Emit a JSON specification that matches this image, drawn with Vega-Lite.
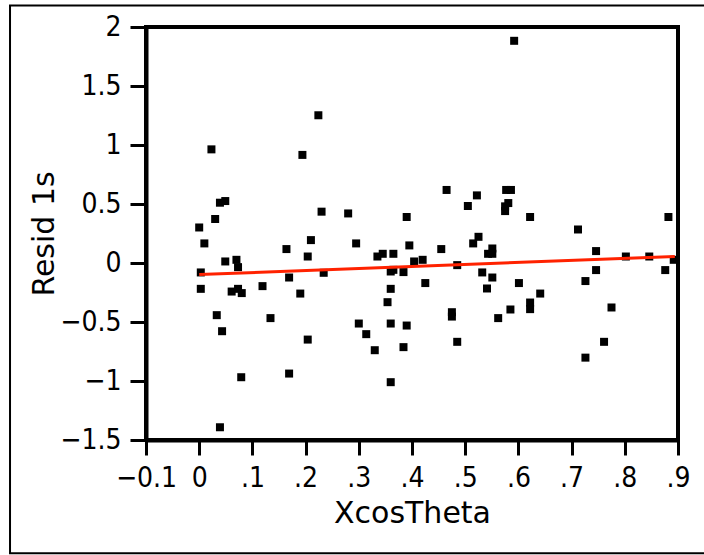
{
  "$schema": "https://vega.github.io/schema/vega-lite/v6.json",
  "width": 532,
  "height": 413,
  "autosize": {"type": "none"},
  "padding": {"left": 146, "top": 27, "right": 26, "bottom": 115},
  "background": "white",
  "config": {
    "view": {"stroke": "black", "strokeWidth": 4},
    "axis": {
      "grid": false,
      "domainColor": "black",
      "domainWidth": 4,
      "tickColor": "black",
      "tickWidth": 3,
      "tickSize": 15,
      "labelFont": "DejaVu Sans Condensed, Liberation Sans Narrow, DejaVu Sans",
      "labelFontSize": 28,
      "labelColor": "black",
      "titleFont": "DejaVu Sans",
      "titleFontSize": 30,
      "titleFontWeight": "normal",
      "titleColor": "black"
    }
  },
  "datasets": {
    "pts": [
      {"x": 0.592, "y": 1.883}, {"x": 0.224, "y": 1.252}, {"x": 0.023, "y": 0.963}, {"x": 0.194, "y": 0.916},
      {"x": 0.465, "y": 0.619}, {"x": 0.577, "y": 0.619}, {"x": 0.586, "y": 0.619}, {"x": 0.522, "y": 0.573},
      {"x": 0.049, "y": 0.525}, {"x": 0.039, "y": 0.511}, {"x": 0.505, "y": 0.483}, {"x": 0.581, "y": 0.508},
      {"x": 0.575, "y": 0.48}, {"x": 0.575, "y": 0.44}, {"x": 0.230, "y": 0.435}, {"x": 0.280, "y": 0.42},
      {"x": 0.390, "y": 0.39}, {"x": 0.622, "y": 0.39}, {"x": 0.882, "y": 0.39}, {"x": 0.030, "y": 0.373},
      {"x": 0.0, "y": 0.301}, {"x": 0.712, "y": 0.284}, {"x": 0.525, "y": 0.222}, {"x": 0.21, "y": 0.194},
      {"x": 0.0097, "y": 0.166}, {"x": 0.295, "y": 0.166}, {"x": 0.515, "y": 0.166}, {"x": 0.395, "y": 0.149},
      {"x": 0.164, "y": 0.118}, {"x": 0.455, "y": 0.118}, {"x": 0.551, "y": 0.123}, {"x": 0.746, "y": 0.101},
      {"x": 0.335, "y": 0.055}, {"x": 0.345, "y": 0.078}, {"x": 0.365, "y": 0.078}, {"x": 0.543, "y": 0.078},
      {"x": 0.551, "y": 0.078}, {"x": 0.204, "y": 0.055}, {"x": 0.802, "y": 0.055}, {"x": 0.846, "y": 0.055},
      {"x": 0.070, "y": 0.027}, {"x": 0.049, "y": 0.013}, {"x": 0.404, "y": 0.013}, {"x": 0.42, "y": 0.027},
      {"x": 0.892, "y": 0.027}, {"x": 0.073, "y": -0.035}, {"x": 0.485, "y": -0.018}, {"x": 0.003, "y": -0.08},
      {"x": 0.234, "y": -0.083}, {"x": 0.36, "y": -0.072}, {"x": 0.365, "y": -0.058}, {"x": 0.384, "y": -0.077},
      {"x": 0.532, "y": -0.08}, {"x": 0.746, "y": -0.06}, {"x": 0.876, "y": -0.06}, {"x": 0.169, "y": -0.123},
      {"x": 0.551, "y": -0.123}, {"x": 0.726, "y": -0.153}, {"x": 0.425, "y": -0.17}, {"x": 0.601, "y": -0.17},
      {"x": 0.119, "y": -0.196}, {"x": 0.003, "y": -0.219}, {"x": 0.073, "y": -0.219}, {"x": 0.36, "y": -0.219},
      {"x": 0.541, "y": -0.216}, {"x": 0.061, "y": -0.242}, {"x": 0.080, "y": -0.255}, {"x": 0.190, "y": -0.259},
      {"x": 0.641, "y": -0.259}, {"x": 0.354, "y": -0.332}, {"x": 0.622, "y": -0.335}, {"x": 0.775, "y": -0.377},
      {"x": 0.622, "y": -0.391}, {"x": 0.585, "y": -0.394}, {"x": 0.475, "y": -0.417}, {"x": 0.475, "y": -0.454},
      {"x": 0.033, "y": -0.442}, {"x": 0.134, "y": -0.467}, {"x": 0.562, "y": -0.467}, {"x": 0.30, "y": -0.513},
      {"x": 0.36, "y": -0.513}, {"x": 0.39, "y": -0.53}, {"x": 0.043, "y": -0.578}, {"x": 0.314, "y": -0.603},
      {"x": 0.204, "y": -0.649}, {"x": 0.485, "y": -0.668}, {"x": 0.761, "y": -0.668}, {"x": 0.384, "y": -0.713},
      {"x": 0.330, "y": -0.739}, {"x": 0.726, "y": -0.802}, {"x": 0.169, "y": -0.937}, {"x": 0.079, "y": -0.968},
      {"x": 0.36, "y": -1.010}, {"x": 0.039, "y": -1.392}
    ],
    "fit": [
      {"x": 0.0, "y": -0.098},
      {"x": 0.894, "y": 0.056}
    ],
    "frame": [{"x": -0.3556, "x2": 1.3, "y": 2.182, "y2": -2.459}]
  },
  "layer": [
    {
      "data": {"name": "frame"},
      "mark": {"type": "rect", "filled": false, "stroke": "black", "strokeWidth": 2, "clip": false},
      "encoding": {
        "x": {"field": "x", "type": "quantitative", "scale": {"domain": [-0.1, 0.9], "nice": false, "zero": false}},
        "x2": {"field": "x2"},
        "y": {"field": "y", "type": "quantitative", "scale": {"domain": [-1.5, 2], "nice": false, "zero": false}},
        "y2": {"field": "y2"}
      }
    },
    {
      "data": {"name": "pts"},
      "mark": {"type": "point", "shape": "square", "filled": true, "size": 64, "color": "black", "opacity": 1, "strokeWidth": 0},
      "encoding": {
        "x": {
          "field": "x", "type": "quantitative",
          "scale": {"domain": [-0.1, 0.9], "nice": false, "zero": false},
          "axis": {
            "title": "XcosTheta",
            "values": [-0.1, 0, 0.1, 0.2, 0.3, 0.4, 0.5, 0.6, 0.7, 0.8, 0.9],
            "labelExpr": "datum.value == 0 ? '0' : (datum.value < 0 ? '\u22120.1' : replace(format(datum.value, '.1f'), '0.', '.'))",
            "labelPadding": 9,
            "labelFlush": false,
            "labelOverlap": false,
            "titlePadding": 6
          }
        },
        "y": {
          "field": "y", "type": "quantitative",
          "scale": {"domain": [-1.5, 2], "nice": false, "zero": false},
          "axis": {
            "title": "Resid 1s",
            "values": [-1.5, -1, -0.5, 0, 0.5, 1, 1.5, 2],
            "format": "~g",
            "tickSize": 16,
            "labelPadding": 9,
            "labelFlush": false,
            "labelOverlap": false,
            "titlePadding": 0
          }
        }
      }
    },
    {
      "data": {"name": "fit"},
      "mark": {"type": "line", "color": "#ff2200", "strokeWidth": 3},
      "encoding": {
        "x": {"field": "x", "type": "quantitative"},
        "y": {"field": "y", "type": "quantitative"}
      }
    }
  ]
}
